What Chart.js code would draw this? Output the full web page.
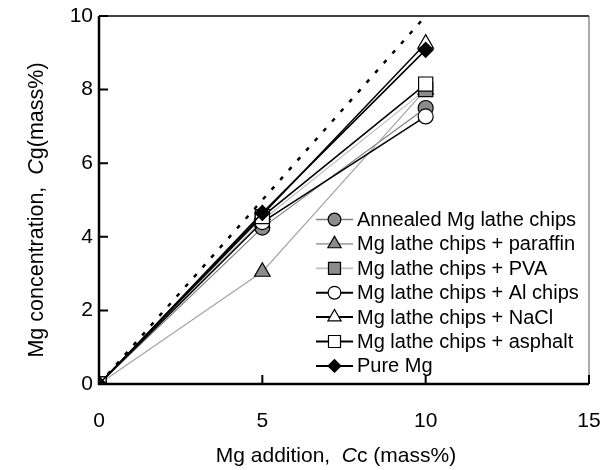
<!DOCTYPE html>
<html>
<head>
<meta charset="utf-8">
<script src="https://cdn.jsdelivr.net/npm/chart.js@4/dist/chart.umd.min.js"></script>
<style>
  html, body { margin: 0; padding: 0; background: #fff; }
  #wrap { width: 610px; height: 470px; position: relative; }
</style>
</head>
<body>
<div id="wrap"><canvas id="mgChart" width="610" height="470"></canvas></div>
<script>
// === DATA ===
const mgAddition = [0, 5, 10];
const annealed = [0, 4.25, 7.5];
const paraffin = [0, 3.05, 8.0];
const pva = [0, 4.45, 8.0];
const alChips = [0, 4.4, 7.27];
const nacl = [0, 4.6, 9.25];
const asphalt = [0, 4.55, 8.15];
const pureMg = [0, 4.65, 9.08];
const idealX = [0, 10];
const idealY = [0, 10];

const xTicks = [0, 5, 10, 15];
const yTicks = [0, 2, 4, 6, 8, 10];

const FONT = "'Liberation Sans', Arial, sans-serif";

function pts(xs, ys) {
  return xs.map((x, i) => ({ x: x, y: ys[i] }));
}

function series(label, ys, style) {
  return Object.assign({
    label: label,
    data: pts(mgAddition, ys),
    showLine: true,
    borderWidth: 1.5,
    pointBorderWidth: 1.2,
    pointBorderColor: "#000",
    pointRadius: 7.5,
    pointHoverRadius: 7.5
  }, style);
}

const datasets = [
  series("Annealed Mg lathe chips", annealed, {
    borderColor: "#7f7f7f", borderWidth: 1.2, pointStyle: "circle", pointBackgroundColor: "#8c8c8c", order: 7
  }),
  series("Mg lathe chips + paraffin", paraffin, {
    borderColor: "#a6a6a6", borderWidth: 1.2, pointStyle: "triangle", pointRadius: 9, pointBackgroundColor: "#8c8c8c", order: 6
  }),
  series("Mg lathe chips + PVA", pva, {
    borderColor: "#bfbfbf", borderWidth: 1.2, pointStyle: "rect", pointRadius: 10, pointBackgroundColor: "#8c8c8c", order: 5
  }),
  series("Mg lathe chips + Al chips", alChips, {
    borderColor: "#000", pointStyle: "circle", pointBackgroundColor: "#fff", order: 4
  }),
  series("Mg lathe chips + NaCl", nacl, {
    borderColor: "#000", pointStyle: "triangle", pointRadius: 9, pointBackgroundColor: "#fff", order: 3
  }),
  series("Mg lathe chips + asphalt", asphalt, {
    borderColor: "#000", pointStyle: "rect", pointRadius: 10, pointBackgroundColor: "#fff", order: 2
  }),
  series("Pure Mg", pureMg, {
    borderColor: "#000", pointStyle: "rectRot", pointRadius: 7.5, pointBackgroundColor: "#000", order: 1
  }),
  {
    label: "ideal",
    data: pts(idealX, idealY),
    showLine: true,
    borderColor: "#000",
    borderWidth: 2.5,
    borderDash: [4, 9],
    pointRadius: 0,
    order: 8
  }
];

// axes box, inward ticks, axis titles, legend
const decorations = {
  id: "decorations",
  afterDraw(chart) {
    const ctx = chart.ctx;
    const a = chart.chartArea;
    const xs = chart.scales.x, ys = chart.scales.y;
    ctx.save();
    // frame
    ctx.strokeStyle = "#000";
    ctx.lineWidth = 1.5;
    ctx.beginPath();
    ctx.moveTo(a.left, a.top); ctx.lineTo(a.right, a.top);
    ctx.stroke();
    ctx.strokeStyle = "#555";
    ctx.lineWidth = 1;
    ctx.beginPath();
    ctx.moveTo(a.right, a.top); ctx.lineTo(a.right, a.bottom);
    ctx.stroke();
    ctx.strokeStyle = "#000";
    ctx.lineWidth = 2.5;
    ctx.beginPath();
    ctx.moveTo(a.left, a.top); ctx.lineTo(a.left, a.bottom); ctx.lineTo(a.right, a.bottom);
    ctx.stroke();
    // inward ticks
    ctx.lineWidth = 2;
    ctx.beginPath();
    yTicks.forEach(v => {
      const p = ys.getPixelForValue(v);
      ctx.moveTo(a.left, p); ctx.lineTo(a.left + 9, p);
    });
    xTicks.forEach(v => {
      const p = xs.getPixelForValue(v);
      ctx.moveTo(p, a.bottom); ctx.lineTo(p, a.bottom - 9);
    });
    ctx.stroke();

    // axis titles with italic C
    ctx.fillStyle = "#000";
    ctx.textBaseline = "middle";
    function drawParts(parts, cx, cy, size) {
      let w = 0;
      parts.forEach(p => { ctx.font = p[1] + " " + size + "px " + FONT; w += ctx.measureText(p[0]).width; });
      let x = cx - w / 2;
      ctx.textAlign = "left";
      parts.forEach(p => {
        ctx.font = p[1] + " " + size + "px " + FONT;
        ctx.fillText(p[0], x, cy);
        x += ctx.measureText(p[0]).width;
      });
    }
    drawParts([["Mg addition,  ", "normal"], ["C", "italic"], ["c (mass%)", "normal"]], 336, 456, 21);
    ctx.save();
    ctx.translate(37, 210);
    ctx.rotate(-Math.PI / 2);
    drawParts([["Mg concentration,  ", "normal"], ["C", "italic"], ["g(mass%)", "normal"]], 0, 0, 21.5);
    ctx.restore();

    // legend
    const lx0 = 316, lx1 = 353, top = 219.5, step = 24.4;
    ctx.font = "20px " + FONT;
    ctx.textAlign = "left";
    ctx.textBaseline = "middle";
    datasets.slice(0, 7).forEach((ds, i) => {
      const y = top + i * step;
      ctx.strokeStyle = ds.borderColor;
      ctx.lineWidth = ds.borderWidth + 0.5;
      ctx.setLineDash([]);
      ctx.beginPath();
      ctx.moveTo(lx0, y); ctx.lineTo(lx1, y);
      ctx.stroke();
      ctx.fillStyle = ds.pointBackgroundColor;
      ctx.strokeStyle = "#000";
      ctx.lineWidth = 1.2;
      Chart.helpers.drawPoint(ctx, {
        pointStyle: ds.pointStyle, radius: ds.pointRadius * 0.85, borderWidth: 1.2, rotation: 0
      }, (lx0 + lx1) / 2, y);
      ctx.fillStyle = "#000";
      ctx.fillText(ds.label, lx1 + 4, y + 1);
    });
    ctx.restore();
  }
};

new Chart(document.getElementById("mgChart"), {
  type: "scatter",
  data: { datasets: datasets },
  options: {
    responsive: false,
    animation: false,
    layout: { autoPadding: false, padding: { left: 0, top: 16, right: 21, bottom: 0 } },
    plugins: { legend: { display: false }, tooltip: { enabled: false } },
    scales: {
      x: {
        type: "linear",
        min: 0, max: 15,
        afterBuildTicks: s => { s.ticks = xTicks.map(v => ({ value: v })); },
        afterFit: s => { s.height = 86; s.paddingLeft = 0; s.paddingRight = 0; },
        grid: { display: false, drawTicks: false },
        border: { display: false },
        ticks: { padding: 25, color: "#000", font: { family: FONT, size: 21 } }
      },
      y: {
        type: "linear",
        min: 0, max: 10,
        afterBuildTicks: s => { s.ticks = yTicks.map(v => ({ value: v })); },
        afterFit: s => { s.width = 99; s.paddingTop = 0; s.paddingBottom = 0; },
        grid: { display: false, drawTicks: false },
        border: { display: false },
        ticks: { padding: 6, color: "#000", font: { family: FONT, size: 21 } }
      }
    }
  },
  plugins: [decorations]
});
</script>
</body>
</html>
